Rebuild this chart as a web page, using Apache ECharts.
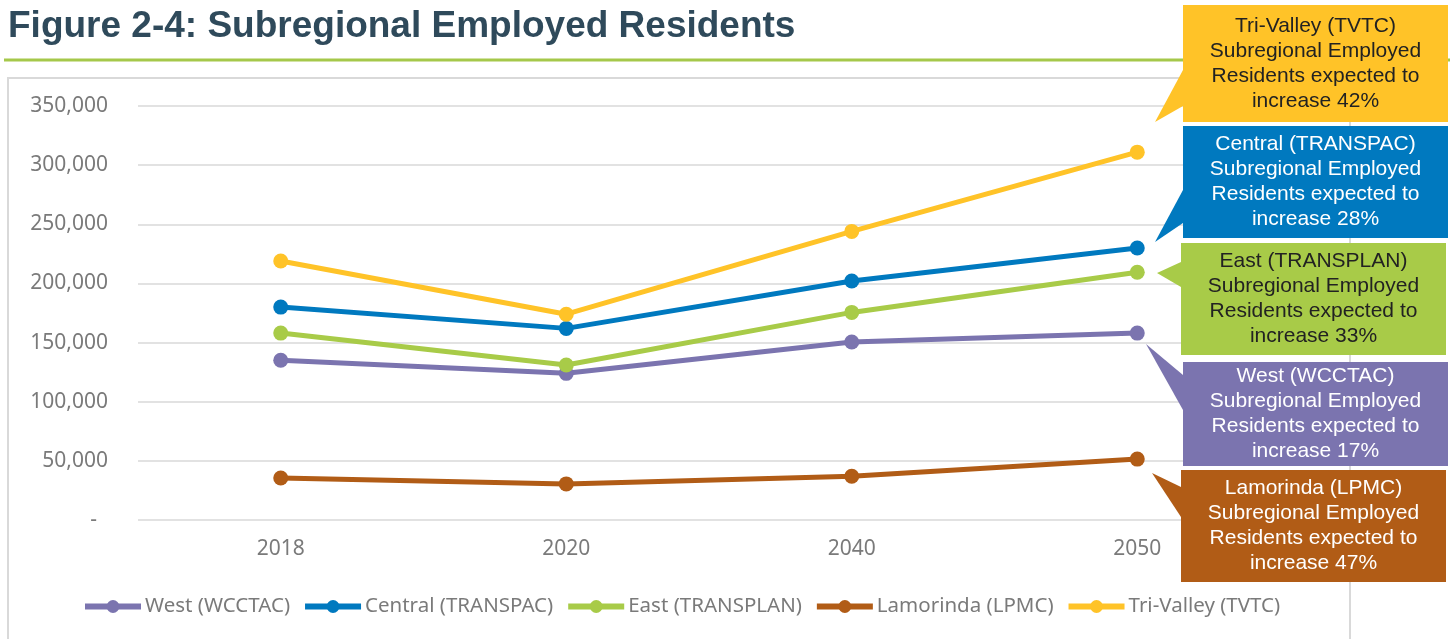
<!DOCTYPE html>
<html>
<head>
<meta charset="utf-8">
<title>Figure 2-4: Subregional Employed Residents</title>
<script src="https://cdn.jsdelivr.net/npm/echarts@6/dist/echarts.min.js"></script>
<style>
	html, body { margin: 0; padding: 0; background: #fff; }
	#chart { width: 1450px; height: 639px; }
</style>
</head>
<body>
<div id="chart"></div>
<script>
// -- data --
var years = ['2018', '2020', '2040', '2050'];
var westData = [135000, 124000, 150500, 158000];
var centralData = [180000, 162000, 202000, 230000];
var eastData = [158000, 131000, 175500, 209500];
var lamorindaData = [35500, 30500, 37000, 51500];
var triValleyData = [219000, 174000, 244000, 311000];
var seriesNames = ['West (WCCTAC)', 'Central (TRANSPAC)', 'East (TRANSPLAN)', 'Lamorinda (LPMC)', 'Tri-Valley (TVTC)'];
var seriesColors = ['#7B74AF', '#0079BF', '#A8CB48', '#B15C16', '#FFC328'];
var increasePct = ['17%', '28%', '33%', '47%', '42%'];

var chart = echarts.init(document.getElementById('chart'));

function makeSeries(i, data) {
	return {
		name: seriesNames[i],
		type: 'line',
		data: data,
		symbol: 'circle',
		symbolSize: 15,
		lineStyle: {width: 5, color: seriesColors[i]},
		itemStyle: {color: seriesColors[i]},
		emphasis: {disabled: true}
	};
}

//  callout = box + pointer triangle + centered text (z on every child, group z is not passed down)
function callout(idx, box, tip, textColor) {
	var txt = seriesNames[idx] + '\nSubregional Employed\nResidents expected to\nincrease ' + increasePct[idx];
	return {
		type: 'group',
		children: [
			{
				type: 'rect',
				z: 100,
				shape: {x: box[0], y: box[1], width: box[2], height: box[3]},
				style: {fill: seriesColors[idx]}
			},
			{
				type: 'polygon',
				z: 100,
				shape: {points: tip},
				style: {fill: seriesColors[idx]}
			},
			{
				type: 'text',
				z: 101,
				x: box[0] + box[2] / 2,
				y: box[1] + box[3] / 2,
				style: {
					text: txt,
					align: 'center',
					verticalAlign: 'middle',
					lineHeight: 25,
					fontSize: 21,
					fontFamily: '"Liberation Sans", Arial, sans-serif',
					fill: textColor
				}
			}
		]
	};
}

var option = {
	backgroundColor: '#fff',
	animation: false,
	color: seriesColors,
	grid: {
		left: 138,
		right: 170,
		top: 106,
		bottom: 119
	},
	legend: {
		left: 77,
		top: 591,
		itemWidth: 56,
		itemHeight: 16,
		itemGap: 12,
		data: seriesNames,
		lineStyle: {width: 6},
		textStyle: {
			fontFamily: '"Noto Sans", sans-serif',
			fontSize: 20.5,
			color: '#7a7a7a',
			padding: [0, 0, 0, -1]
		}
	},
	xAxis: {
		type: 'category',
		data: years,
		boundaryGap: true,
		axisLine: {show: false},
		axisTick: {show: false},
		axisLabel: {
			margin: 19,
			fontFamily: '"Noto Sans", sans-serif',
			fontSize: 21,
			color: '#7a7a7a'
		}
	},
	yAxis: {
		type: 'value',
		min: 0,
		max: 350000,
		interval: 50000,
		axisLine: {show: false},
		axisTick: {show: false},
		splitLine: {lineStyle: {color: '#d9d9d9', width: 1.5}},
		axisLabel: {
			margin: 30,
			fontFamily: '"Noto Sans", sans-serif',
			fontSize: 21,
			color: '#7a7a7a',
			formatter: function (v) {
				if (v === 0) {
					return '-  ';
				}
				return v.toString().replace(/\B(?=(\d{3})+(?!\d))/g, ',');
			}
		}
	},
	series: [
		makeSeries(0, westData),
		makeSeries(1, centralData),
		makeSeries(2, eastData),
		makeSeries(3, lamorindaData),
		makeSeries(4, triValleyData)
	],
	graphic: [
		{
			type: 'text',
			x: 8,
			y: 27,
			style: {
				text: 'Figure 2-4: Subregional Employed Residents',
				fontFamily: '"Liberation Sans", Arial, sans-serif',
				fontWeight: 'bold',
				fontSize: 37,
				fill: '#2F4A5B',
				verticalAlign: 'middle'
			}
		},
		{
			type: 'line',
			shape: {x1: 4, y1: 60, x2: 1450, y2: 60},
			style: {stroke: '#A5C84A', lineWidth: 3}
		},
		{
			type: 'rect',
			z: -1,
			shape: {x: 8, y: 78, width: 1342, height: 600},
			style: {fill: 'none', stroke: '#d9d9d9', lineWidth: 2}
		},
		callout(4, [1183, 5, 265, 117], [[1183, 70], [1155, 122], [1183, 106]], '#222'),
		callout(1, [1183, 126, 265, 112], [[1183, 190], [1155, 242], [1183, 223]], '#fff'),
		callout(2, [1181, 243, 265, 112], [[1181, 262], [1157, 273], [1181, 287]], '#222'),
		callout(0, [1183, 362, 265, 104], [[1183, 375], [1146, 344], [1183, 410]], '#fff'),
		callout(3, [1181, 470, 265, 112], [[1181, 487], [1152, 473], [1181, 517]], '#fff')
	]
};

chart.setOption(option);
</script>
</body>
</html>
